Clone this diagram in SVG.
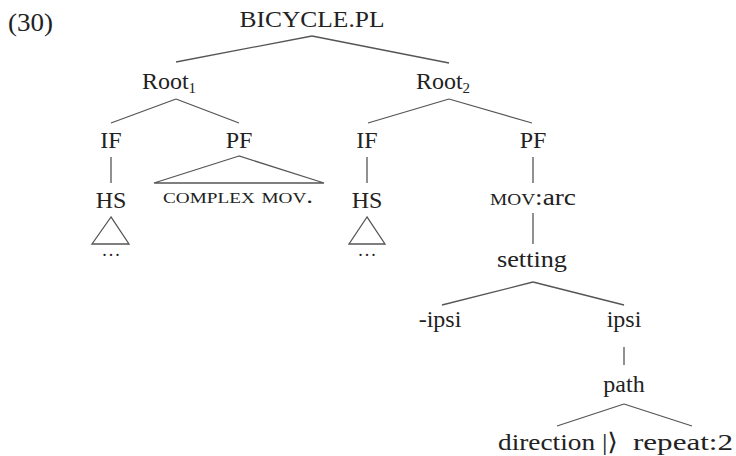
<svg xmlns="http://www.w3.org/2000/svg" width="736" height="456" viewBox="0 0 736 456">
  <style>
    text { font-family: "Liberation Serif", "DejaVu Serif", serif; font-size: 24px; fill: #222; text-anchor: middle; }
    .sc { font-variant: small-caps; }
    .sub { font-size: 15px; }
    .dots { font-size: 18px; letter-spacing: 2px; }
    .edge { stroke: #555; stroke-width: 1.3; fill: none; }
  </style>
  <rect width="736" height="456" fill="#fff"/>

  <text x="8" y="31" style="text-anchor:start;font-size:25px" textLength="45" lengthAdjust="spacingAndGlyphs">(30)</text>

  <g id="edges">
    <line class="edge" x1="312" y1="36" x2="176" y2="62"/>
    <line class="edge" x1="312" y1="36" x2="449" y2="63"/>
    <line class="edge" x1="176" y1="99" x2="111" y2="123"/>
    <line class="edge" x1="176" y1="99" x2="239" y2="123"/>
    <line class="edge" x1="449" y1="99" x2="368" y2="123"/>
    <line class="edge" x1="449" y1="99" x2="532" y2="123"/>
    <line class="edge" x1="111" y1="157" x2="111" y2="183"/>
    <line class="edge" x1="367" y1="157" x2="367" y2="183"/>
    <line class="edge" x1="533" y1="157" x2="533" y2="183"/>
    <line class="edge" x1="533" y1="213" x2="533" y2="244"/>
    <line class="edge" x1="533" y1="282" x2="442" y2="305"/>
    <line class="edge" x1="533" y1="282" x2="624" y2="305"/>
    <line class="edge" x1="624" y1="347" x2="624" y2="365"/>
    <line class="edge" x1="624" y1="404" x2="557" y2="426"/>
    <line class="edge" x1="624" y1="404" x2="692" y2="426"/>
    <polygon class="edge" points="239,156 154,183 324,183"/>
    <polygon class="edge" points="111,217 92,244 129,244"/>
    <polygon class="edge" points="367,217 349,244 385,244"/>
  </g>

  <g id="n-bicycle"><text x="312" y="27" textLength="145" lengthAdjust="spacingAndGlyphs">BICYCLE.PL</text></g>
  <g id="n-root1"><text x="169" y="89">Root<tspan class="sub" dy="4">1</tspan></text></g>
  <g id="n-root2"><text x="443" y="89">Root<tspan class="sub" dy="4">2</tspan></text></g>
  <g id="n-if1"><text x="111" y="148">IF</text></g>
  <g id="n-pf1"><text x="239" y="148">PF</text></g>
  <g id="n-if2"><text x="367" y="148">IF</text></g>
  <g id="n-pf2"><text x="533" y="148">PF</text></g>
  <g id="n-hs1"><text x="111" y="208">HS</text><text class="dots" x="112" y="256">...</text></g>
  <g id="n-hs2"><text x="367" y="208">HS</text><text class="dots" x="368" y="256">...</text></g>
  <g id="n-complex"><text class="sc" x="238" y="203" style="font-size:21px" textLength="150" lengthAdjust="spacingAndGlyphs">complex mov.</text></g>
  <g id="n-mov"><text x="533" y="205" textLength="86" lengthAdjust="spacingAndGlyphs"><tspan class="sc">mov</tspan>:arc</text></g>
  <g id="n-setting"><text x="532" y="267" textLength="70" lengthAdjust="spacingAndGlyphs">setting</text></g>
  <g id="n-nipsi"><text x="440" y="327">-ipsi</text></g>
  <g id="n-ipsi"><text x="624" y="327">ipsi</text></g>
  <g id="n-path"><text x="624" y="392">path</text></g>
  <g id="n-direction"><text x="558" y="450" textLength="120" lengthAdjust="spacingAndGlyphs">direction |⟩</text></g>
  <g id="n-repeat"><text x="683" y="450" textLength="100" lengthAdjust="spacingAndGlyphs">repeat:2</text></g>
</svg>
